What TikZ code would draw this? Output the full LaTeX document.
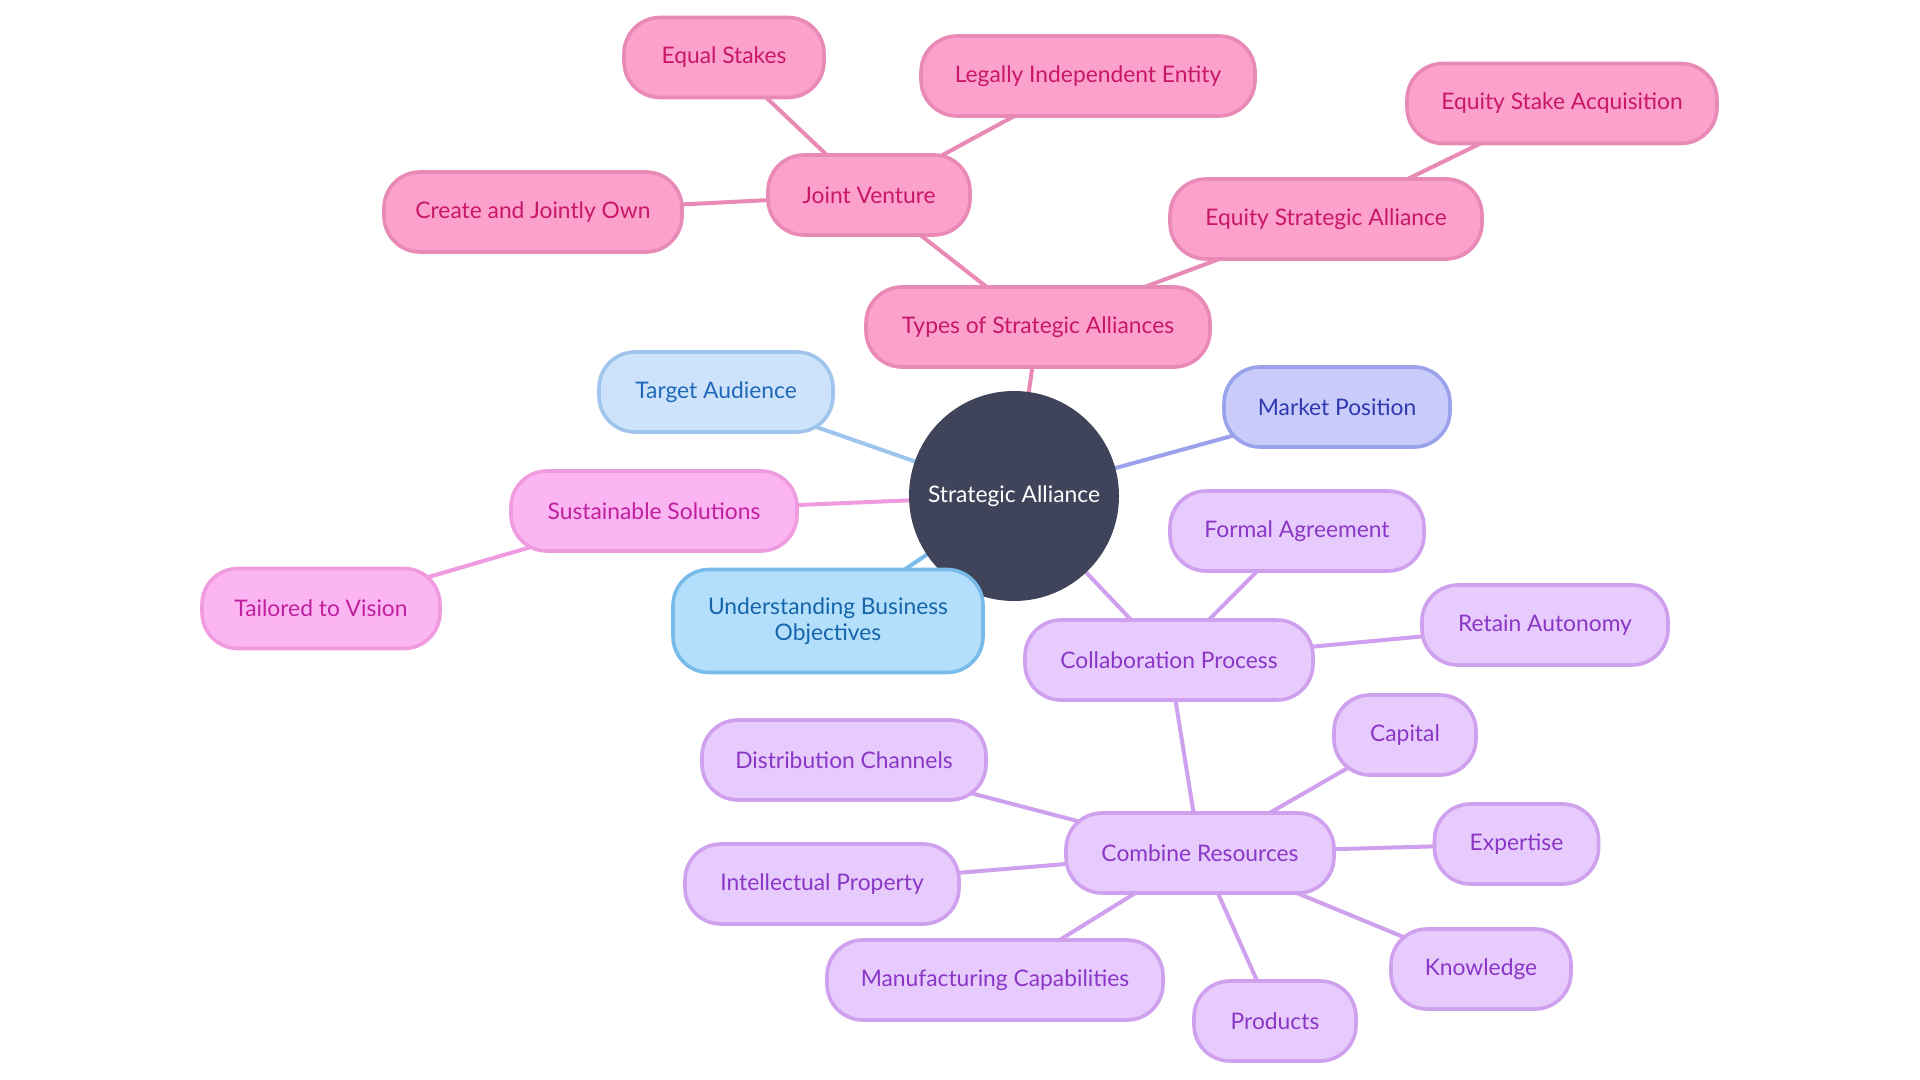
\documentclass[tikz,border=0pt]{standalone}
\usepackage{fontspec}
\setmainfont{Lato}
\usetikzlibrary{backgrounds}
\definecolor{pinkfill}{HTML}{FCA1CB}
\definecolor{pinkdraw}{HTML}{E989B6}
\definecolor{pinktext}{HTML}{C8176A}
\definecolor{bluefill}{HTML}{CDE3FB}
\definecolor{bluedraw}{HTML}{9DC5EE}
\definecolor{bluetext}{HTML}{2068B8}
\definecolor{indfill}{HTML}{C9CBFB}
\definecolor{inddraw}{HTML}{9AA2EC}
\definecolor{indtext}{HTML}{2E39B0}
\definecolor{magfill}{HTML}{FCB5F3}
\definecolor{magdraw}{HTML}{F09ADF}
\definecolor{magtext}{HTML}{C0209E}
\definecolor{skyfill}{HTML}{B4DFFC}
\definecolor{skydraw}{HTML}{78BAEA}
\definecolor{skytext}{HTML}{1565A8}
\definecolor{purfill}{HTML}{E6CBFC}
\definecolor{purdraw}{HTML}{CFA0EE}
\definecolor{purtext}{HTML}{8A36C6}
\definecolor{hubfill}{HTML}{40445A}
\tikzset{
  txt/.style={font=\fontsize{11.4}{13}\selectfont},
  box/.style={txt, rounded corners=18pt, line width=1.8pt, minimum height=40pt, inner sep=0pt, align=center},
  pinkbox/.style={box, fill=pinkfill, draw=pinkdraw, text=pinktext},
  bluebox/.style={box, fill=bluefill, draw=bluedraw, text=bluetext},
  indbox/.style={box, fill=indfill, draw=inddraw, text=indtext},
  magbox/.style={box, fill=magfill, draw=magdraw, text=magtext},
  skybox/.style={box, fill=skyfill, draw=skydraw, text=skytext},
  purbox/.style={box, fill=purfill, draw=purdraw, text=purtext},
  link/.style={line width=2pt},
}
\begin{document}
\begin{tikzpicture}[x=0.5pt, y=-0.5pt]
\useasboundingbox (0,0) rectangle (1920,1080);
\node[txt, circle, fill=hubfill, minimum size=105pt, inner sep=0pt, text=white] (hub) at (1014,496) {Strategic Alliance};

\node[pinkbox, minimum width=172pt] (types) at (1038,327) {Types of Strategic Alliances};
\node[pinkbox, minimum width=101pt] (jv) at (869,195) {Joint Venture};
\node[pinkbox, minimum width=100pt] (eq) at (724,57.5) {Equal Stakes};
\node[pinkbox, minimum width=167pt] (legal) at (1088,76) {Legally Independent Entity};
\node[pinkbox, minimum width=149pt] (create) at (533,212) {Create and Jointly Own};
\node[pinkbox, minimum width=156pt] (esa) at (1326,219) {Equity Strategic Alliance};
\node[pinkbox, minimum width=155pt] (acq) at (1562,103.5) {Equity Stake Acquisition};
\node[bluebox, minimum width=117pt] (target) at (716,392) {Target Audience};
\node[indbox, minimum width=113pt] (market) at (1337,407) {Market Position};
\node[magbox, minimum width=143pt] (sust) at (654,511) {Sustainable Solutions};
\node[magbox, minimum width=119pt] (tail) at (321,608.5) {Tailored to Vision};
\node[skybox, minimum width=155pt, minimum height=51.5pt] (under) at (828,621) {Understanding Business\\Objectives};
\node[purbox, minimum width=127pt] (formal) at (1297,531) {Formal Agreement};
\node[purbox, minimum width=144pt] (collab) at (1169,660) {Collaboration Process};
\node[purbox, minimum width=123pt] (retain) at (1545,625) {Retain Autonomy};
\node[purbox, minimum width=71pt] (capital) at (1405,735) {Capital};
\node[purbox, minimum width=82pt] (expert) at (1516.5,844) {Expertise};
\node[purbox, minimum width=90pt] (know) at (1481,969) {Knowledge};
\node[purbox, minimum width=81pt] (prod) at (1275,1021) {Products};
\node[purbox, minimum width=168pt] (manu) at (995,980) {Manufacturing Capabilities};
\node[purbox, minimum width=137pt] (ip) at (822,884) {Intellectual Property};
\node[purbox, minimum width=142pt] (dist) at (844,760) {Distribution Channels};
\node[purbox, minimum width=134pt] (comb) at (1200,853) {Combine Resources};

\begin{scope}[on background layer]
\fill[white] (0,0) rectangle (1920,1080);
\draw[link, pinkdraw] (hub.center) -- (types.center);
\draw[link, pinkdraw] (types.center) -- (jv.center);
\draw[link, pinkdraw] (jv.center) -- (eq.center);
\draw[link, pinkdraw] (jv.center) -- (legal.center);
\draw[link, pinkdraw] (jv.center) -- (create.center);
\draw[link, pinkdraw] (types.center) -- (esa.center);
\draw[link, pinkdraw] (esa.center) -- (acq.center);
\draw[link, bluedraw] (hub.center) -- (target.center);
\draw[link, inddraw] (hub.center) -- (market.center);
\draw[link, magdraw] (hub.center) -- (sust.center);
\draw[link, magdraw] (sust.center) -- (tail.center);
\draw[link, skydraw] (hub.center) -- (under.center);
\draw[link, purdraw] (hub.center) -- (collab.center);
\draw[link, purdraw] (collab.center) -- (formal.center);
\draw[link, purdraw] (collab.center) -- (retain.center);
\draw[link, purdraw] (collab.center) -- (comb.center);
\draw[link, purdraw] (comb.center) -- (capital.center);
\draw[link, purdraw] (comb.center) -- (expert.center);
\draw[link, purdraw] (comb.center) -- (know.center);
\draw[link, purdraw] (comb.center) -- (prod.center);
\draw[link, purdraw] (comb.center) -- (manu.center);
\draw[link, purdraw] (comb.center) -- (ip.center);
\draw[link, purdraw] (comb.center) -- (dist.center);
\end{scope}
\end{tikzpicture}
\end{document}
